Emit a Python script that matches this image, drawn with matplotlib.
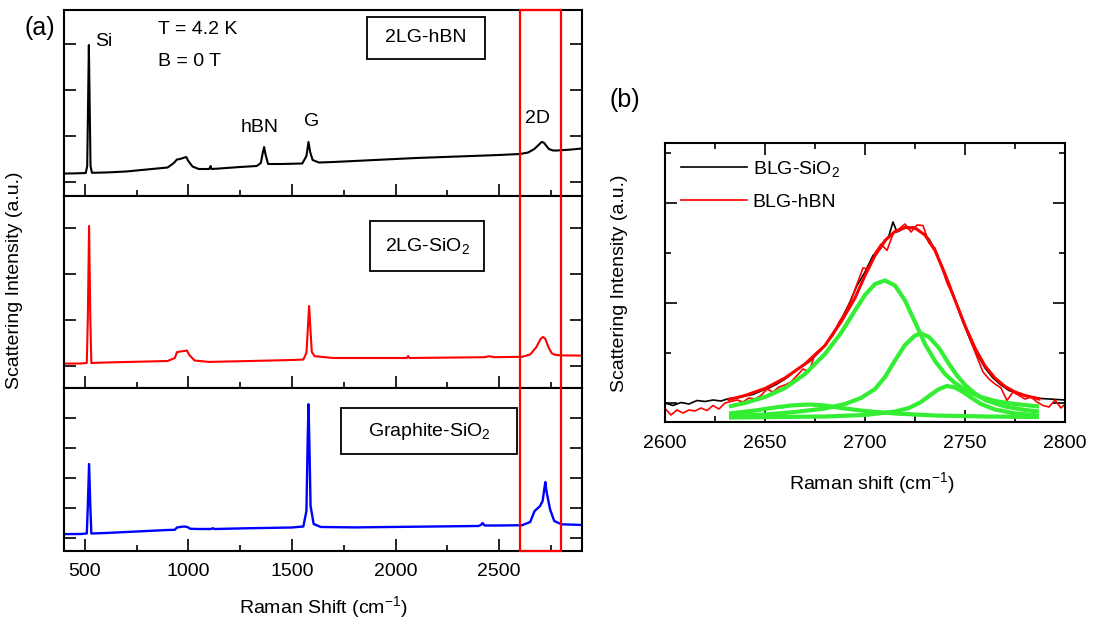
import matplotlib
matplotlib.use('Agg')
import matplotlib.pyplot as plt
import matplotlib.transforms as mtransforms
from matplotlib.patches import Rectangle
from matplotlib.ticker import MultipleLocator, FixedLocator

plt.rcParams['font.family'] = ['Liberation Sans', 'DejaVu Sans']
plt.rcParams['mathtext.fontset'] = 'custom'
plt.rcParams['mathtext.rm'] = 'Liberation Sans'
plt.rcParams['mathtext.it'] = 'Liberation Sans'

# ---- panel (a): full spectra (Raman shift in cm-1, intensity in arb. units) ----
shift_hbn = [400, 450, 505, 512, 516, 520, 524, 528, 535, 600, 700, 800, 850, 900, 930, 945,
             960, 975, 990, 1000, 1020, 1050, 1100, 1108, 1112, 1150, 1250, 1330, 1350, 1360,
             1366, 1372, 1385, 1450, 1550, 1570, 1580, 1588, 1600, 1630, 1700, 1900, 2100,
             2300, 2500, 2600, 2640, 2670, 2690, 2705, 2715, 2725, 2740, 2760, 2780, 2850, 2900]
int_hbn = [22.5, 22.6, 23.0, 30, 90, 151, 90, 30, 23.2, 23.5, 24.5, 26.5, 27.5, 28.5, 33, 36.5,
           37, 38, 39, 35, 29.5, 27, 27, 30, 27, 27.5, 29, 30, 33, 44,
           49, 42, 32, 32, 32.5, 40, 54, 44, 36, 33.5, 34, 36, 38,
           39.5, 41, 42, 43.5, 47, 51, 54, 53.5, 51, 47, 45.5, 45.5, 46.5, 47.5]

shift_sio2 = [400, 480, 510, 515, 521, 527, 532, 600, 800, 900, 935, 945, 960, 980, 993, 1005,
              1030, 1100, 1300, 1500, 1555, 1570, 1577, 1583, 1589, 1596, 1610, 1700, 1900,
              2055, 2061, 2067, 2300, 2430, 2451, 2480, 2611, 2650, 2680, 2700, 2711, 2722,
              2740, 2755, 2770, 2800, 2905]
int_sio2 = [24.4, 24.5, 25, 70, 162, 70, 25, 25.5, 26.5, 27, 30, 35.8, 36.5, 37, 37.5, 33,
            27.5, 26.1, 27, 28, 28.5, 35, 60, 82, 60, 36, 31.8, 30, 30,
            30, 32, 30, 30.5, 30.8, 31.8, 30.8, 31.2, 33.5, 41, 49, 51, 49.5,
            40, 34.5, 33.2, 32.6, 32.4]

shift_graphite = [400, 480, 510, 515, 521, 527, 532, 600, 800, 900, 935, 945, 960, 980, 995,
                  1010, 1050, 1110, 1118, 1126, 1300, 1500, 1555, 1570, 1576, 1580, 1584,
                  1590, 1605, 1640, 1800, 2100, 2400, 2412, 2420, 2430, 2500, 2611, 2650,
                  2671, 2697, 2710, 2718, 2723, 2730, 2746, 2766, 2801, 2905]
int_graphite = [16.9, 17, 17.5, 45, 87, 45, 17.5, 18, 20, 21, 21.2, 23.5, 24, 24.5, 24,
                22.2, 22, 22, 22.8, 22, 22.8, 23.5, 24.5, 40, 110, 146.8, 110,
                45, 27, 24, 23.6, 24.3, 25, 26, 28, 25.5, 25.5, 25.8, 29,
                39.9, 44.8, 50, 62, 68.9, 58, 41.6, 30, 26.7, 26]

# ---- panel (b): 2D band ----
shift_blg_sio2 = [2600, 2604, 2608, 2612, 2616, 2620, 2624, 2628, 2632, 2636, 2640, 2644, 2648,
                  2652, 2656, 2660, 2664, 2668, 2672, 2676, 2680, 2684, 2688, 2692, 2696, 2700,
                  2704, 2708, 2712, 2714, 2716, 2720, 2724, 2728, 2732, 2736, 2740, 2744, 2748,
                  2752, 2756, 2760, 2764, 2768, 2772, 2776, 2780, 2784, 2788, 2792, 2796, 2800]
int_blg_sio2 = [0.00, -0.05, 0.01, -0.02, 0.05, 0.03, 0.06, 0.04, 0.09, 0.10, 0.14, 0.17, 0.24,
                0.30, 0.38, 0.48, 0.60, 0.72, 0.82, 0.98, 1.15, 1.40, 1.66, 1.98, 2.35, 2.62,
                2.95, 3.10, 3.35, 3.62, 3.42, 3.50, 3.52, 3.42, 3.28, 2.98, 2.58, 2.18, 1.72,
                1.32, 0.98, 0.70, 0.50, 0.36, 0.25, 0.20, 0.14, 0.12, 0.09, 0.08, 0.07, 0.06]

shift_blg_hbn = [2600, 2603, 2606, 2609, 2612, 2615, 2618, 2621, 2624, 2627, 2630, 2633, 2636,
                 2639, 2642, 2645, 2648, 2651, 2654, 2657, 2660, 2663, 2666, 2669, 2672, 2675,
                 2678, 2681, 2684, 2687, 2690, 2693, 2696, 2699, 2702, 2705, 2708, 2711, 2714,
                 2717, 2720, 2723, 2726, 2729, 2732, 2735, 2738, 2741, 2744, 2747, 2750, 2753,
                 2756, 2759, 2762, 2765, 2768, 2771, 2774, 2777, 2780, 2783, 2786, 2789, 2792,
                 2795, 2798, 2800]
int_blg_hbn = [-0.11, -0.24, -0.14, -0.20, -0.14, -0.16, -0.10, -0.15, -0.05, -0.12, 0.00, 0.03, 0.06,
               0.02, 0.10, 0.08, 0.15, 0.28, 0.22, 0.32, 0.36, 0.42, 0.55, 0.68, 0.62, 0.98,
               1.05, 1.22, 1.35, 1.62, 1.80, 2.05, 2.38, 2.70, 2.68, 3.00, 3.18, 3.05, 3.38,
               3.48, 3.58, 3.42, 3.56, 3.55, 3.20, 3.10, 2.75, 2.40, 2.15, 1.85, 1.55, 1.22,
               0.92, 0.62, 0.48, 0.38, 0.30, 0.05, 0.22, 0.15, 0.08, 0.12, 0.02, -0.05, -0.08,
               0.06, -0.10, -0.02]

shift_fit = [2632, 2640, 2650, 2660, 2670, 2680, 2688, 2695, 2700, 2705, 2710, 2715, 2720,
             2725, 2730, 2735, 2740, 2745, 2750, 2755, 2760, 2765, 2770, 2775, 2780, 2787]
int_fit = [0.07, 0.15, 0.29, 0.50, 0.78, 1.15, 1.62, 2.10, 2.55, 2.95, 3.25, 3.43, 3.51,
           3.50, 3.36, 3.05, 2.58, 2.06, 1.55, 1.10, 0.74, 0.50, 0.33, 0.22, 0.15, 0.08]

shift_p1 = [2632, 2640, 2650, 2660, 2670, 2680, 2688, 2695, 2700, 2705, 2710, 2715, 2720, 2725,
            2730, 2735, 2740, 2745, 2750, 2757, 2765, 2775, 2787]
int_p1 = [-0.07, 0.00, 0.12, 0.30, 0.58, 0.98, 1.40, 1.85, 2.16, 2.38, 2.45, 2.35, 2.05, 1.62,
          1.18, 0.84, 0.58, 0.40, 0.26, 0.13, 0.04, -0.02, -0.07]
shift_p2 = [2632, 2650, 2665, 2680, 2690, 2698, 2705, 2710, 2715, 2720, 2725, 2728, 2732, 2737,
            2742, 2746, 2750, 2755, 2760, 2770, 2780, 2787]
int_p2 = [-0.26, -0.23, -0.18, -0.11, -0.02, 0.10, 0.28, 0.52, 0.85, 1.16, 1.35, 1.39, 1.32, 1.10,
          0.78, 0.55, 0.36, 0.19, 0.06, -0.07, -0.14, -0.17]
shift_p3 = [2632, 2680, 2700, 2715, 2722, 2728, 2733, 2737, 2741, 2745, 2749, 2753, 2758, 2765,
            2775, 2787]
int_p3 = [-0.29, -0.27, -0.24, -0.17, -0.10, 0.02, 0.17, 0.28, 0.34, 0.31, 0.22, 0.11, -0.02, -0.13,
          -0.21, -0.25]
shift_p4 = [2632, 2645, 2655, 2663, 2672, 2680, 2688, 2700, 2715, 2735, 2760, 2787]
int_p4 = [-0.21, -0.15, -0.09, -0.05, -0.03, -0.05, -0.10, -0.16, -0.21, -0.25, -0.27, -0.28]

W, H = 1101, 628


def fx(px):
    return px / W


def fy(py):
    return 1 - py / H


fig = plt.figure(figsize=(W / 100, H / 100), dpi=100)

# left stacked panels (pixel extents)
ax1 = fig.add_axes([fx(64), fy(196), (582 - 64) / W, (196 - 10) / H])
ax2 = fig.add_axes([fx(64), fy(388), (582 - 64) / W, (388 - 196) / H])
ax3 = fig.add_axes([fx(64), fy(551), (582 - 64) / W, (551 - 388) / H])
ax4 = fig.add_axes([fx(665), fy(422), (1065 - 665) / W, (422 - 143) / H])

ax1.plot(shift_hbn, int_hbn, color='black', lw=1.5)
ax2.plot(shift_sio2, int_sio2, color='#ff0000', lw=1.5)
ax3.plot(shift_graphite, int_graphite, color='#0000ff', lw=1.7)

for ax, ylim, yt in [(ax1, 186, [14, 60, 106, 152]),
                     (ax2, 192, [22, 68, 114, 160]),
                     (ax3, 163, [13, 43, 73, 103, 133])]:
    ax.set_xlim(400, 2900)
    ax.set_ylim(0, ylim)
    ax.xaxis.set_major_locator(MultipleLocator(500))
    ax.xaxis.set_minor_locator(MultipleLocator(250))
    ax.yaxis.set_major_locator(FixedLocator(yt))
    ax.tick_params(which='major', direction='in', length=8.5, width=1.2,
                   left=True, right=True, top=False, bottom=True,
                   labelleft=False, labelbottom=False, labelsize=14, pad=9)
    ax.tick_params(which='minor', direction='in', length=4, width=1.2, top=False)
    for s in ax.spines.values():
        s.set_linewidth(1.5)
ax3.tick_params(labelbottom=True)

# panel (b)
ax4.plot(shift_blg_sio2, int_blg_sio2, color='black', lw=1.2, label='BLG-SiO$_2$')
ax4.plot(shift_blg_hbn, int_blg_hbn, color='#ff0000', lw=1.2, label='BLG-hBN')
for sx, sy in [(shift_p1, int_p1), (shift_p2, int_p2), (shift_p3, int_p3), (shift_p4, int_p4)]:
    ax4.plot(sx, sy, color='#33ee33', lw=3.0, solid_capstyle='butt')
ax4.plot(shift_fit, int_fit, color='#ff0000', lw=2.2)
ax4.set_xlim(2600, 2800)
ax4.set_ylim(-0.38, 5.2)
ax4.xaxis.set_major_locator(MultipleLocator(50))
ax4.xaxis.set_minor_locator(MultipleLocator(25))
ax4.yaxis.set_major_locator(MultipleLocator(2))
ax4.yaxis.set_minor_locator(MultipleLocator(1))
ax4.tick_params(which='major', direction='in', length=8.5, width=1.2, top=True, right=True,
                labelleft=False, labelsize=14, pad=9)
ax4.tick_params(which='minor', direction='in', length=4.5, width=1.2, top=True, right=True)
for s in ax4.spines.values():
    s.set_linewidth(1.5)
ax4.legend(loc='upper left', frameon=False, fontsize=14, handlelength=3.4,
           handletextpad=0.3, labelspacing=0.75, borderaxespad=0.4)

# red box marking the 2D region across the three left panels
blend = mtransforms.blended_transform_factory(ax3.transData, fig.transFigure)
fig.add_artist(Rectangle((2600, fy(551)), 200, (551 - 10) / H, transform=blend,
                         fill=False, ec='#ff0000', lw=1.6, zorder=10))

# sample boxes
for (x0, y0, x1, y1), txt in [((367, 17, 485, 59), '2LG-hBN'),
                              ((370, 221, 484, 271), '2LG-SiO$_2$'),
                              ((341, 408, 517, 454), 'Graphite-SiO$_2$')]:
    fig.add_artist(Rectangle((fx(x0), fy(y1)), (x1 - x0) / W, (y1 - y0) / H,
                             transform=fig.transFigure, fill=False, ec='black', lw=1.3))
    fig.text(fx((x0 + x1) / 2), fy((y0 + y1) / 2), txt, ha='center', va='center', fontsize=14)

fig.text(fx(95), fy(42), 'Si', ha='left', va='center', fontsize=14)
fig.text(fx(158), fy(30), 'T = 4.2 K', ha='left', va='center', fontsize=14)
fig.text(fx(158), fy(61), 'B = 0 T', ha='left', va='center', fontsize=14)
fig.text(fx(260), fy(127), 'hBN', ha='center', va='center', fontsize=14)
fig.text(fx(312), fy(121), 'G', ha='center', va='center', fontsize=14)
fig.text(fx(537), fy(118), '2D', ha='center', va='center', fontsize=14)

fig.text(fx(40), fy(28), '(a)', ha='center', va='center', fontsize=18)
fig.text(fx(625), fy(100), '(b)', ha='center', va='center', fontsize=18)

fig.text(fx(15), fy(280), 'Scattering Intensity (a.u.)', rotation=90,
         ha='center', va='center', fontsize=14)
fig.text(fx(323), fy(607), 'Raman Shift (cm$^{-1}$)', ha='center', va='center', fontsize=14)
fig.text(fx(620), fy(283), 'Scattering Intensity (a.u.)', rotation=90,
         ha='center', va='center', fontsize=14)
fig.text(fx(872), fy(483), 'Raman shift (cm$^{-1}$)', ha='center', va='center', fontsize=14)

fig.savefig('out.png', dpi=100)
